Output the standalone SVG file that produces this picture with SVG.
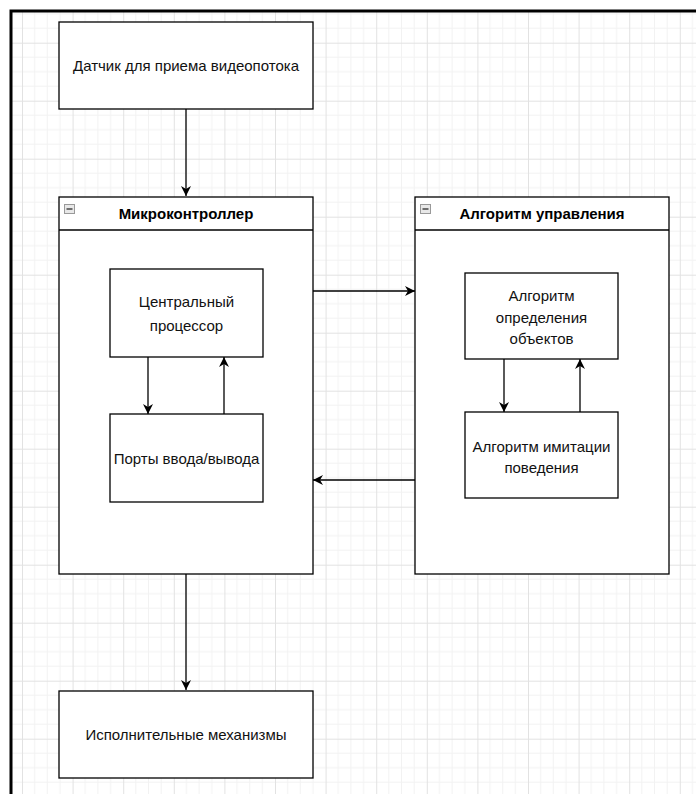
<svg xmlns="http://www.w3.org/2000/svg" width="696" height="794" viewBox="0 0 696 794">
  <defs>
    <pattern id="grid" x="22" y="42.7" width="50.6" height="58" patternUnits="userSpaceOnUse">
      <path d="M12.65 0V58M25.3 0V58M37.95 0V58M0 14.5H50.6M0 29H50.6M0 43.5H50.6" stroke="#f2f2f2" stroke-width="1" fill="none"/>
      <path d="M0.5 0V58M0 0.5H50.6" stroke="#e2e2e2" stroke-width="1" fill="none"/>
    </pattern>
    <marker id="arr" viewBox="0 0 10 10" refX="10" refY="5" markerWidth="10" markerHeight="10" markerUnits="userSpaceOnUse" orient="auto">
      <path d="M0 0L10 5L0 10L3 5Z" fill="#000"/>
    </marker>
  </defs>
  <style>
    .box { fill: #fff; stroke: #000; stroke-width: 1.3; }
    .t { font-family: "Liberation Sans", Arial, sans-serif; font-size: 15px; fill: #111; text-anchor: middle; }
    .h { font-family: "Liberation Sans", Arial, sans-serif; font-size: 15px; font-weight: bold; fill: #000; text-anchor: middle; }
    .c { stroke: #000; stroke-width: 1.3; fill: none; marker-end: url(#arr); }
    .icon { fill: #e8e8e8; stroke: #999; stroke-width: 1; }
  </style>
  <rect x="0" y="0" width="696" height="794" fill="#fff"/>
  <rect x="11" y="11" width="685" height="783" fill="url(#grid)"/>
  <path d="M11 794V11H696" stroke="#000" stroke-width="3" fill="none"/>

  <g id="sensor">
    <rect class="box" x="59" y="22" width="254" height="87"/>
    <text class="t" x="186" y="71">Датчик для приема видеопотока</text>
  </g>

  <g id="microcontroller">
    <rect class="box" x="59" y="197" width="254" height="377"/>
    <line x1="59" y1="230" x2="313" y2="230" stroke="#000" stroke-width="1.3"/>
    <rect class="icon" x="64.5" y="204.5" width="10" height="9"/>
    <line x1="66.5" y1="209" x2="72.5" y2="209" stroke="#444" stroke-width="1.5"/>
    <text class="h" x="186" y="219">Микроконтроллер</text>
  </g>

  <g id="algorithm">
    <rect class="box" x="415" y="197" width="254" height="377"/>
    <line x1="415" y1="230" x2="669" y2="230" stroke="#000" stroke-width="1.3"/>
    <rect class="icon" x="420.5" y="204.5" width="10" height="9"/>
    <line x1="422.5" y1="209" x2="428.5" y2="209" stroke="#444" stroke-width="1.5"/>
    <text class="h" x="542" y="219">Алгоритм управления</text>
  </g>

  <g id="cpu">
    <rect class="box" x="110" y="269" width="153" height="88"/>
    <text class="t" x="186.5" y="307">Центральный</text>
    <text class="t" x="186.5" y="331">процессор</text>
  </g>

  <g id="ports">
    <rect class="box" x="110" y="414" width="153" height="88"/>
    <text class="t" x="186.5" y="464">Порты ввода/вывода</text>
  </g>

  <g id="detection">
    <rect class="box" x="465" y="273" width="153" height="86"/>
    <text class="t" x="541.5" y="301">Алгоритм</text>
    <text class="t" x="541.5" y="323">определения</text>
    <text class="t" x="541.5" y="344">объектов</text>
  </g>

  <g id="behavior">
    <rect class="box" x="465" y="412" width="153" height="86"/>
    <text class="t" x="541.5" y="452">Алгоритм имитации</text>
    <text class="t" x="541.5" y="473">поведения</text>
  </g>

  <g id="actuators">
    <rect class="box" x="59" y="691" width="254" height="87"/>
    <text class="t" x="186" y="740">Исполнительные механизмы</text>
  </g>

  <g id="connectors">
    <line class="c" x1="186" y1="109" x2="186" y2="196"/>
    <line class="c" x1="148" y1="357" x2="148" y2="414"/>
    <line class="c" x1="224" y1="414" x2="224" y2="357"/>
    <line class="c" x1="504" y1="359" x2="504" y2="412"/>
    <line class="c" x1="580" y1="412" x2="580" y2="359"/>
    <line class="c" x1="313" y1="291" x2="415" y2="291"/>
    <line class="c" x1="415" y1="480" x2="313" y2="480"/>
    <line class="c" x1="186" y1="574" x2="186" y2="690"/>
  </g>
</svg>
